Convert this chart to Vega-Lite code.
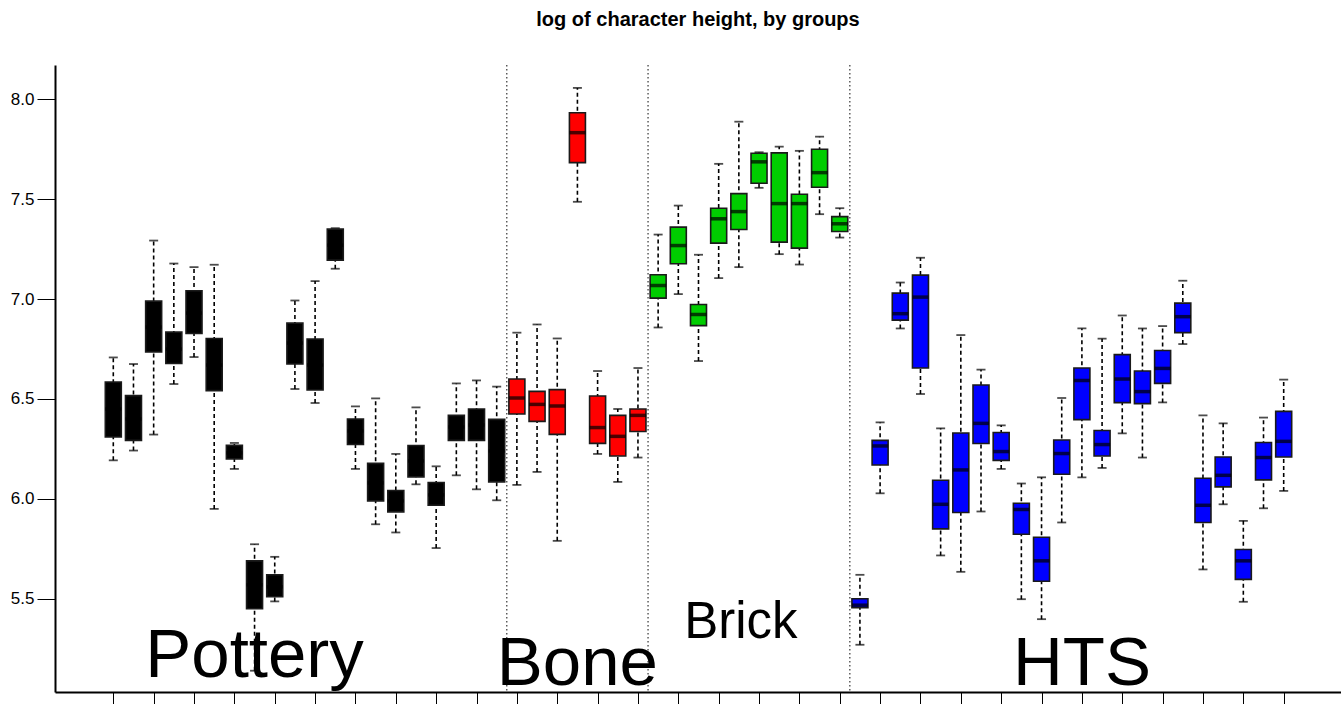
{
  "$schema": "https://vega.github.io/schema/vega-lite/v6.json",
  "autosize": {"type": "none"},
  "padding": {"left": 55, "top": 65, "right": 0, "bottom": 12},
  "width": 1286,
  "height": 627,
  "title": {"text": "log of character height, by groups", "font": "Liberation Sans", "fontSize": 20, "fontWeight": "bold", "color": "black", "anchor": "middle", "offset": 34},
  "config": {"view": {"stroke": null}, "font": "Liberation Sans", "scale": {"continuousPadding": 0}},
  "datasets": {
    "boxes": [
      {"group": "Pottery", "pos": 1, "lo": 6.193, "q1": 6.31, "med": 6.45, "q3": 6.585, "hi": 6.708},
      {"group": "Pottery", "pos": 2, "lo": 6.242, "q1": 6.293, "med": 6.40, "q3": 6.517, "hi": 6.675},
      {"group": "Pottery", "pos": 3, "lo": 6.322, "q1": 6.735, "med": 6.86, "q3": 6.99, "hi": 7.293},
      {"group": "Pottery", "pos": 4, "lo": 6.575, "q1": 6.678, "med": 6.75, "q3": 6.835, "hi": 7.178},
      {"group": "Pottery", "pos": 5, "lo": 6.71, "q1": 6.828, "med": 6.93, "q3": 7.042, "hi": 7.16},
      {"group": "Pottery", "pos": 6, "lo": 5.95, "q1": 6.542, "med": 6.67, "q3": 6.803, "hi": 7.172},
      {"group": "Pottery", "pos": 7, "lo": 6.15, "q1": 6.2, "med": 6.23, "q3": 6.268, "hi": 6.28},
      {"group": "Pottery", "pos": 8, "lo": 5.14, "q1": 5.45, "med": 5.57, "q3": 5.69, "hi": 5.773},
      {"group": "Pottery", "pos": 9, "lo": 5.487, "q1": 5.51, "med": 5.56, "q3": 5.62, "hi": 5.71},
      {"group": "Pottery", "pos": 10, "lo": 6.55, "q1": 6.675, "med": 6.78, "q3": 6.88, "hi": 6.993},
      {"group": "Pottery", "pos": 11, "lo": 6.48, "q1": 6.545, "med": 6.67, "q3": 6.80, "hi": 7.09},
      {"group": "Pottery", "pos": 12, "lo": 7.152, "q1": 7.195, "med": 7.27, "q3": 7.35, "hi": 7.355},
      {"group": "Pottery", "pos": 13, "lo": 6.15, "q1": 6.272, "med": 6.34, "q3": 6.40, "hi": 6.463},
      {"group": "Pottery", "pos": 14, "lo": 5.873, "q1": 5.99, "med": 6.08, "q3": 6.178, "hi": 6.503},
      {"group": "Pottery", "pos": 15, "lo": 5.832, "q1": 5.935, "med": 5.99, "q3": 6.042, "hi": 6.225},
      {"group": "Pottery", "pos": 16, "lo": 6.073, "q1": 6.11, "med": 6.19, "q3": 6.267, "hi": 6.458},
      {"group": "Pottery", "pos": 17, "lo": 5.754, "q1": 5.968, "med": 6.02, "q3": 6.082, "hi": 6.163},
      {"group": "Pottery", "pos": 18, "lo": 6.118, "q1": 6.293, "med": 6.36, "q3": 6.418, "hi": 6.578},
      {"group": "Pottery", "pos": 19, "lo": 6.048, "q1": 6.293, "med": 6.37, "q3": 6.45, "hi": 6.593},
      {"group": "Pottery", "pos": 20, "lo": 5.993, "q1": 6.085, "med": 6.24, "q3": 6.398, "hi": 6.562},
      {"group": "Bone", "pos": 21, "lo": 6.07, "q1": 6.425, "med": 6.505, "q3": 6.60, "hi": 6.832},
      {"group": "Bone", "pos": 22, "lo": 6.135, "q1": 6.388, "med": 6.473, "q3": 6.538, "hi": 6.873},
      {"group": "Bone", "pos": 23, "lo": 5.79, "q1": 6.323, "med": 6.465, "q3": 6.547, "hi": 6.803},
      {"group": "Bone", "pos": 24, "lo": 7.487, "q1": 7.683, "med": 7.833, "q3": 7.933, "hi": 8.057},
      {"group": "Bone", "pos": 25, "lo": 6.225, "q1": 6.278, "med": 6.357, "q3": 6.515, "hi": 6.64},
      {"group": "Bone", "pos": 26, "lo": 6.085, "q1": 6.215, "med": 6.313, "q3": 6.418, "hi": 6.45},
      {"group": "Bone", "pos": 27, "lo": 6.207, "q1": 6.337, "med": 6.418, "q3": 6.45, "hi": 6.655},
      {"group": "Brick", "pos": 28, "lo": 6.858, "q1": 7.005, "med": 7.068, "q3": 7.122, "hi": 7.323},
      {"group": "Brick", "pos": 29, "lo": 7.025, "q1": 7.177, "med": 7.268, "q3": 7.36, "hi": 7.468},
      {"group": "Brick", "pos": 30, "lo": 6.69, "q1": 6.867, "med": 6.923, "q3": 6.973, "hi": 7.222},
      {"group": "Brick", "pos": 31, "lo": 7.105, "q1": 7.28, "med": 7.402, "q3": 7.455, "hi": 7.677},
      {"group": "Brick", "pos": 32, "lo": 7.16, "q1": 7.348, "med": 7.438, "q3": 7.528, "hi": 7.888},
      {"group": "Brick", "pos": 33, "lo": 7.557, "q1": 7.58, "med": 7.687, "q3": 7.73, "hi": 7.735},
      {"group": "Brick", "pos": 34, "lo": 7.225, "q1": 7.285, "med": 7.478, "q3": 7.732, "hi": 7.763},
      {"group": "Brick", "pos": 35, "lo": 7.173, "q1": 7.255, "med": 7.478, "q3": 7.525, "hi": 7.742},
      {"group": "Brick", "pos": 36, "lo": 7.425, "q1": 7.56, "med": 7.633, "q3": 7.75, "hi": 7.813},
      {"group": "Brick", "pos": 37, "lo": 7.308, "q1": 7.338, "med": 7.377, "q3": 7.413, "hi": 7.455},
      {"group": "HTS", "pos": 38, "lo": 5.27, "q1": 5.455, "med": 5.468, "q3": 5.50, "hi": 5.62},
      {"group": "HTS", "pos": 39, "lo": 6.028, "q1": 6.17, "med": 6.265, "q3": 6.293, "hi": 6.383},
      {"group": "HTS", "pos": 40, "lo": 6.853, "q1": 6.895, "med": 6.927, "q3": 7.03, "hi": 7.083},
      {"group": "HTS", "pos": 41, "lo": 6.525, "q1": 6.655, "med": 7.01, "q3": 7.12, "hi": 7.207},
      {"group": "HTS", "pos": 42, "lo": 5.717, "q1": 5.85, "med": 5.973, "q3": 6.093, "hi": 6.353},
      {"group": "HTS", "pos": 43, "lo": 5.635, "q1": 5.932, "med": 6.145, "q3": 6.33, "hi": 6.82},
      {"group": "HTS", "pos": 44, "lo": 5.937, "q1": 6.277, "med": 6.378, "q3": 6.57, "hi": 6.647},
      {"group": "HTS", "pos": 45, "lo": 6.15, "q1": 6.193, "med": 6.237, "q3": 6.332, "hi": 6.368},
      {"group": "HTS", "pos": 46, "lo": 5.498, "q1": 5.823, "med": 5.947, "q3": 5.978, "hi": 6.077},
      {"group": "HTS", "pos": 47, "lo": 5.398, "q1": 5.588, "med": 5.69, "q3": 5.808, "hi": 6.108},
      {"group": "HTS", "pos": 48, "lo": 5.882, "q1": 6.123, "med": 6.227, "q3": 6.295, "hi": 6.505},
      {"group": "HTS", "pos": 49, "lo": 6.108, "q1": 6.397, "med": 6.593, "q3": 6.655, "hi": 6.853},
      {"group": "HTS", "pos": 50, "lo": 6.155, "q1": 6.215, "med": 6.272, "q3": 6.342, "hi": 6.802},
      {"group": "HTS", "pos": 51, "lo": 6.328, "q1": 6.482, "med": 6.60, "q3": 6.722, "hi": 6.918},
      {"group": "HTS", "pos": 52, "lo": 6.207, "q1": 6.477, "med": 6.537, "q3": 6.64, "hi": 6.853},
      {"group": "HTS", "pos": 53, "lo": 6.483, "q1": 6.578, "med": 6.653, "q3": 6.743, "hi": 6.865},
      {"group": "HTS", "pos": 54, "lo": 6.775, "q1": 6.832, "med": 6.912, "q3": 6.98, "hi": 7.092},
      {"group": "HTS", "pos": 55, "lo": 5.647, "q1": 5.882, "med": 5.968, "q3": 6.103, "hi": 6.418},
      {"group": "HTS", "pos": 56, "lo": 5.973, "q1": 6.06, "med": 6.118, "q3": 6.21, "hi": 6.378},
      {"group": "HTS", "pos": 57, "lo": 5.485, "q1": 5.597, "med": 5.69, "q3": 5.747, "hi": 5.89},
      {"group": "HTS", "pos": 58, "lo": 5.953, "q1": 6.095, "med": 6.207, "q3": 6.282, "hi": 6.407},
      {"group": "HTS", "pos": 59, "lo": 6.04, "q1": 6.21, "med": 6.288, "q3": 6.438, "hi": 6.597}
    ],
    "labels": [
      {"label": "Pottery", "pos": 8, "val": 5.11},
      {"label": "Bone", "pos": 24, "val": 5.069},
      {"label": "Brick", "pos": 32.1, "val": 5.302},
      {"label": "HTS", "pos": 49, "val": 5.069}
    ],
    "seps": [{"pos": 20.5}, {"pos": 27.5}, {"pos": 37.5}]
  },
  "layer": [
    {
      "data": {"name": "seps"},
      "mark": {"type": "rule", "color": "#333333", "strokeWidth": 1.2, "strokeDash": [1.5, 2.5]},
      "encoding": {
        "x": {"field": "pos", "type": "quantitative", "scale": {"domain": [-1.889, 61.84], "nice": false, "zero": false, "padding": 0},
              "axis": {"values": [1,2,3,4,5,6,7,8,9,10,11,12,13,14,15,16,17,18,19,20,21,22,23,24,25,26,27,28,29,30,31,32,33,34,35,36,37,38,39,40,41,42,43,44,45,46,47,48,49,50,51,52,53,54,55,56,57,58,59],
                       "labels": false, "title": null, "grid": false, "tickSize": 18, "tickColor": "black", "tickWidth": 1, "domainColor": "black", "domainWidth": 2}}
      }
    },
    {
      "data": {"name": "boxes"},
      "mark": {"type": "rule", "color": "black", "strokeWidth": 1.6, "strokeDash": [4, 3]},
      "encoding": {
        "x": {"field": "pos", "type": "quantitative"},
        "y": {"field": "lo", "type": "quantitative", "scale": {"domain": [5.0335, 8.1717], "nice": false, "zero": false, "padding": 0},
              "axis": {"values": [5.5, 6, 6.5, 7, 7.5, 8], "format": ".1f", "title": null, "grid": false, "tickSize": 18, "tickColor": "black", "tickWidth": 1, "domainColor": "black", "domainWidth": 2, "labelFont": "Liberation Sans", "labelFontSize": 17, "labelColor": "black", "labelPadding": 3}},
        "y2": {"field": "hi"}
      }
    },
    {
      "data": {"name": "boxes"},
      "mark": {"type": "tick", "orient": "horizontal", "color": "black", "size": 9, "thickness": 1.8},
      "encoding": {
        "x": {"field": "pos", "type": "quantitative"},
        "y": {"field": "hi", "type": "quantitative"}
      }
    },
    {
      "data": {"name": "boxes"},
      "mark": {"type": "tick", "orient": "horizontal", "color": "black", "size": 9, "thickness": 1.8},
      "encoding": {
        "x": {"field": "pos", "type": "quantitative"},
        "y": {"field": "lo", "type": "quantitative"}
      }
    },
    {
      "data": {"name": "boxes"},
      "mark": {"type": "bar", "width": 16, "stroke": "#1a1a1a", "strokeWidth": 1.6},
      "encoding": {
        "x": {"field": "pos", "type": "quantitative"},
        "y": {"field": "q1", "type": "quantitative"},
        "y2": {"field": "q3"},
        "fill": {"field": "group", "type": "nominal", "scale": {"domain": ["Pottery", "Bone", "Brick", "HTS"], "range": ["#000000", "#FF0000", "#00CD00", "#0000FF"]}, "legend": null}
      }
    },
    {
      "data": {"name": "boxes"},
      "mark": {"type": "tick", "orient": "horizontal", "color": "black", "size": 16, "thickness": 3.5},
      "encoding": {
        "x": {"field": "pos", "type": "quantitative"},
        "y": {"field": "med", "type": "quantitative"}
      }
    },
    {
      "mark": {"type": "rule", "color": "#333333", "strokeWidth": 1.5},
      "encoding": {"y": {"datum": 6.45}}
    },
    {
      "mark": {"type": "rule", "color": "black", "strokeWidth": 2},
      "encoding": {"y": {"datum": 8.1717}}
    },
    {
      "data": {"name": "labels"},
      "transform": [{"filter": "datum.label !== 'Brick'"}],
      "mark": {"type": "text", "font": "Liberation Sans", "fontSize": 69, "color": "black", "align": "center", "baseline": "alphabetic"},
      "encoding": {
        "x": {"field": "pos", "type": "quantitative"},
        "y": {"field": "val", "type": "quantitative"},
        "text": {"field": "label"}
      }
    },
    {
      "data": {"name": "labels"},
      "transform": [{"filter": "datum.label === 'Brick'"}],
      "mark": {"type": "text", "font": "Liberation Sans", "fontSize": 51, "color": "black", "align": "center", "baseline": "alphabetic"},
      "encoding": {
        "x": {"field": "pos", "type": "quantitative"},
        "y": {"field": "val", "type": "quantitative"},
        "text": {"field": "label"}
      }
    }
  ]
}
